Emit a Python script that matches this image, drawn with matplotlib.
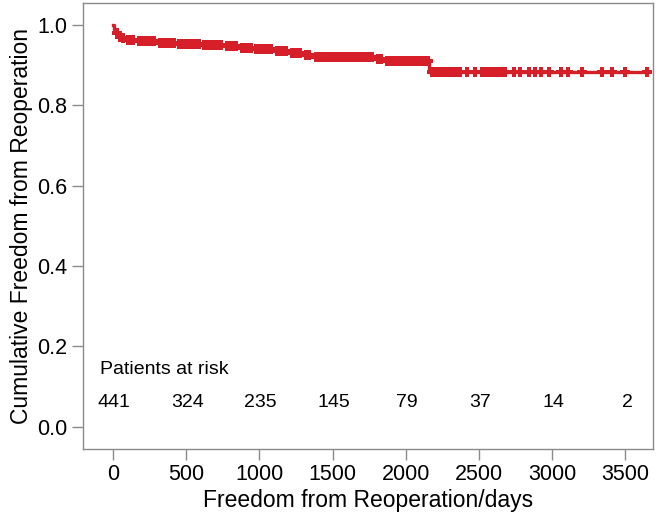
import numpy as np
import matplotlib
matplotlib.use("Agg")
import matplotlib.pyplot as plt

plt.rcParams['font.family'] = ['Liberation Sans', 'DejaVu Sans']

# Kaplan-Meier step data
event_times = [0, 5, 10, 15, 20, 30, 45, 60, 90, 160, 300, 430, 600, 760, 860, 960,
               1100, 1200, 1300, 1370, 1790, 1850, 2160, 3650]
survival = [1.0, 0.995, 0.99, 0.985, 0.98, 0.975, 0.971, 0.967, 0.963, 0.960, 0.956,
            0.952, 0.950, 0.947, 0.944, 0.940, 0.935, 0.930, 0.925, 0.920, 0.916,
            0.911, 0.883, 0.883]

censor_times = [25, 50, 70, 100, 120, 140, 180, 200, 220, 240, 260, 280, 320, 340, 360,
                380, 400, 420, 450, 470, 490, 510, 530, 550, 570, 590, 620, 640, 660,
                680, 700, 720, 740, 780, 800, 820, 840, 880, 900, 920, 940, 980, 1000,
                1020, 1040, 1060, 1080, 1120, 1140, 1160, 1180, 1220, 1240, 1260, 1280,
                1320, 1340, 1390, 1410, 1430, 1450, 1470, 1490, 1510, 1530, 1550, 1570,
                1590, 1610, 1630, 1650, 1670, 1690, 1710, 1730, 1750, 1770, 1810, 1830,
                1870, 1890, 1910, 1930, 1950, 1970, 1990, 2010, 2030, 2050, 2070, 2090,
                2110, 2130, 2150, 2180, 2200, 2220, 2240, 2260, 2280, 2300, 2320, 2340,
                2370, 2420, 2470, 2520, 2540, 2560, 2580, 2600, 2620, 2640, 2660, 2680,
                2740, 2780, 2840, 2880, 2920, 2980, 3060, 3110, 3200, 3340, 3410, 3500,
                3650]

risk_times = [0, 500, 1000, 1500, 2000, 2500, 3000, 3500]
at_risk = [441, 324, 235, 145, 79, 37, 14, 2]

xticks = [0, 500, 1000, 1500, 2000, 2500, 3000, 3500]
yticks = [0.0, 0.2, 0.4, 0.6, 0.8, 1.0]

red = '#d71f2a'
gray = '#8a8a8a'

fig = plt.figure(figsize=(6.68, 5.17), dpi=100)
ax = fig.add_axes([0.124, 0.132, 0.854, 0.862])

ax.step(event_times, survival, where='post', color=red, lw=2.4, zorder=3)
et = np.array(event_times)
sv = np.array(survival)
idx = np.searchsorted(et, censor_times, side='right') - 1
ax.plot(censor_times, sv[idx], linestyle='none', marker='P', markersize=6.5,
        color=red, markeredgewidth=0, zorder=4)

ax.text(-85, 0.142, 'Patients at risk', fontsize=14, ha='left', va='center')
for t, n in zip(risk_times, at_risk):
    ax.text(t + 10, 0.060, str(n), fontsize=14, ha='center', va='center')

ax.set_xlim(-205, 3690)
ax.set_ylim(-0.055, 1.055)
ax.set_xticks(xticks)
ax.set_yticks(yticks)
ax.set_yticklabels([f'{v:.1f}' for v in yticks])
ax.tick_params(axis='both', direction='out', length=8, width=1, color=gray,
               labelsize=15.5, pad=3)
for s in ax.spines.values():
    s.set_color(gray)
    s.set_linewidth(1)

ax.set_xlabel('Freedom from Reoperation/days', fontsize=16.5, labelpad=3)
ax.set_ylabel('Cumulative Freedom from Reoperation', fontsize=16.5, labelpad=3)

fig.savefig('out.png', dpi=100)
